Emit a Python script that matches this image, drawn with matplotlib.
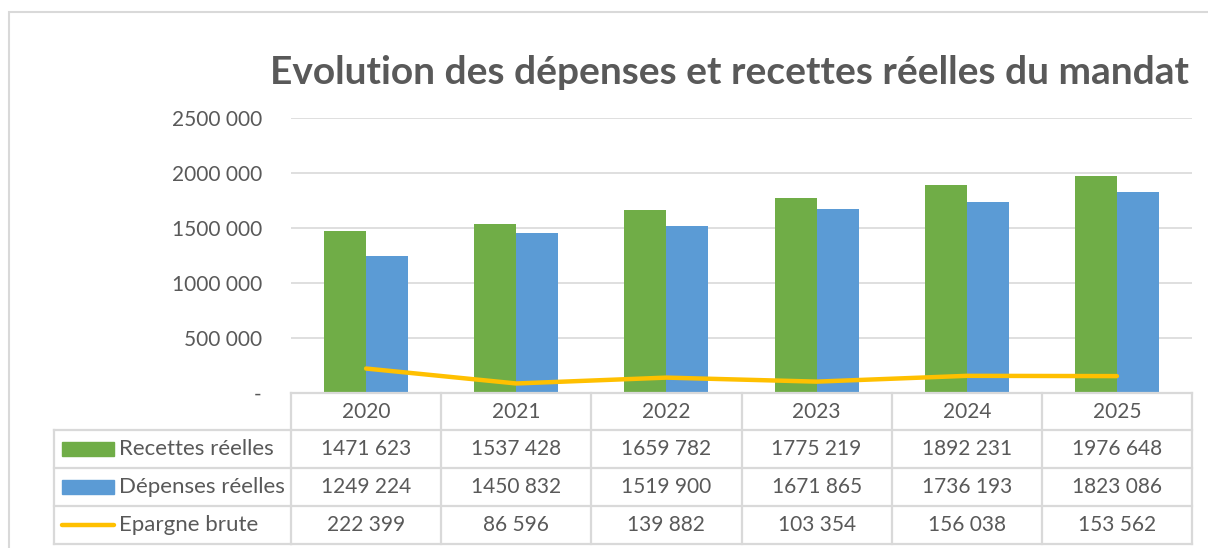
import matplotlib
matplotlib.use('Agg')
import matplotlib.pyplot as plt
from matplotlib.patches import Rectangle
from matplotlib.lines import Line2D
from matplotlib.transforms import blended_transform_factory
import numpy as np

plt.rcParams['font.family'] = ['Lato', 'DejaVu Sans']

years = ['2020', '2021', '2022', '2023', '2024', '2025']
recettes = [1471623, 1537428, 1659782, 1775219, 1892231, 1976648]
depenses = [1249224, 1450832, 1519900, 1671865, 1736193, 1823086]
epargne = [222399, 86596, 139882, 103354, 156038, 153562]
series_names = ['Recettes réelles', 'Dépenses réelles', 'Epargne brute']
title = 'Evolution des dépenses et recettes réelles du mandat'

GREEN = '#70AD47'
BLUE = '#5B9BD5'
GOLD = '#FFC000'
TEXT = '#595959'
GRID = '#D9D9D9'

W, H = 1208, 548
FS = 15


def fmt(v):
    if v == 0:
        return '-'
    return f'{v // 1000} {v % 1000:03d}'


def fy(py):
    # pixel row (from top) -> figure fraction
    return 1 - py / H


def fx(px):
    return px / W


fig = plt.figure(figsize=(W / 100, H / 100), dpi=100)
fig.patch.set_facecolor('white')

# chart frame (right/bottom run off the image)
fig.patches.append(Rectangle((fx(9), fy(600)), fx(1300), fy(12) - fy(600),
                             transform=fig.transFigure, fill=False,
                             edgecolor=GRID, lw=1.5))

ax = fig.add_axes([fx(291), fy(393), fx(1192) - fx(291), fy(118) - fy(393)])
x = np.arange(len(years))
bw = 0.28
ax.bar(x - bw / 2, recettes, bw, color=GREEN, zorder=2)
ax.bar(x + bw / 2, depenses, bw, color=BLUE, zorder=2)
ax.plot(x, epargne, color=GOLD, lw=3.2, solid_capstyle='round', zorder=3)

ax.set_xlim(-0.5, len(years) - 0.5)
ax.set_ylim(0, 2500000)
yt = np.arange(0, 2500001, 500000)
ax.set_yticks(yt)
ax.set_yticklabels([fmt(v) for v in yt], color=TEXT, fontsize=FS)
ax.tick_params(axis='y', length=0, pad=21)
ax.set_xticks([])
ax.grid(axis='y', color=GRID, lw=1.2, zorder=0)
for s in ax.spines.values():
    s.set_visible(False)

fig.text(fx(270), fy(72), title, ha='left', va='center', fontsize=28,
         fontweight='bold', color=TEXT)

# data table under the axis
tr = blended_transform_factory(ax.transData, fig.transFigure)
rows_y = [393, 430, 468, 506, 544]
edges = np.arange(len(years) + 1) - 0.5
lw = 1.6
for e in edges:
    fig.add_artist(Line2D([e, e], [fy(393), fy(544)], transform=tr, color=GRID, lw=lw))
for i, ry in enumerate(rows_y):
    fig.add_artist(Line2D([edges[0], edges[-1]], [fy(ry), fy(ry)], transform=tr,
                          color=GRID, lw=lw))
    if i >= 1:
        fig.add_artist(Line2D([fx(54), fx(291)], [fy(ry), fy(ry)],
                              transform=fig.transFigure, color=GRID, lw=lw))
fig.add_artist(Line2D([fx(54), fx(54)], [fy(430), fy(544)],
                      transform=fig.transFigure, color=GRID, lw=lw))

for i, yr in enumerate(years):
    fig.text(i, fy(412), yr, transform=tr, ha='center', va='center',
             fontsize=FS, color=TEXT)

table = [recettes, depenses, epargne]
centers = [449, 487, 525]
for vals, cy in zip(table, centers):
    for i, v in enumerate(vals):
        fig.text(i, fy(cy), fmt(v), transform=tr, ha='center', va='center',
                 fontsize=FS, color=TEXT)

# legend keys in the first column
fig.patches.append(Rectangle((fx(62), fy(456)), fx(114) - fx(62), fy(442) - fy(456),
                             transform=fig.transFigure, color=GREEN))
fig.patches.append(Rectangle((fx(62), fy(494)), fx(114) - fx(62), fy(480) - fy(494),
                             transform=fig.transFigure, color=BLUE))
fig.add_artist(Line2D([fx(62), fx(114)], [fy(525), fy(525)], transform=fig.transFigure,
                      color=GOLD, lw=3.2, solid_capstyle='round'))
for name, cy in zip(series_names, centers):
    fig.text(fx(119), fy(cy), name, ha='left', va='center', fontsize=16, color=TEXT)

fig.savefig('out.png', dpi=100)
